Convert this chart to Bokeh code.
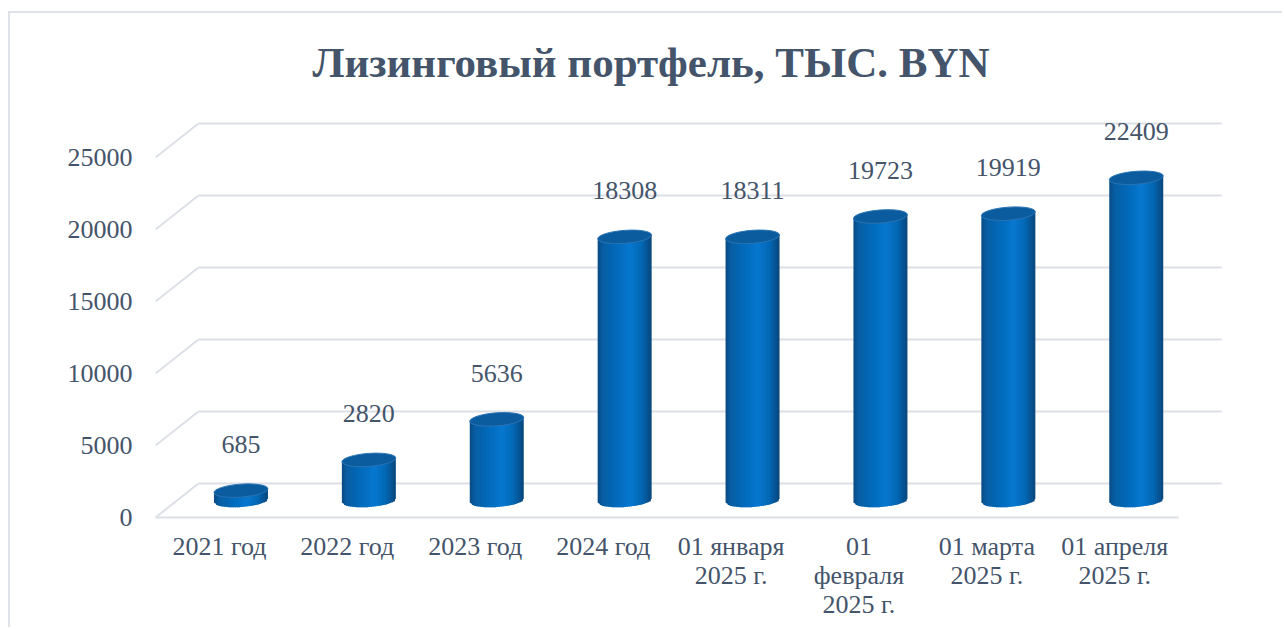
import math
import numpy as np
from bokeh.plotting import figure
from bokeh.models import Range1d, FixedTicker
from bokeh.core.properties import value
from bokeh.embed import file_html
from bokeh.resources import INLINE

# ---------------- data ----------------
categories = ["2021 год", "2022 год", "2023 год", "2024 год",
              "01 января\n2025 г.", "01\nфевраля\n2025 г.",
              "01 марта\n2025 г.", "01 апреля\n2025 г."]
values = [685, 2820, 5636, 18308, 18311, 19723, 19919, 22409]
y_ticks = [0, 5000, 10000, 15000, 20000, 25000]
title_text = "Лизинговый портфель, ТЫС. BYN"

# ---------------- layout constants ----------------
W, H = 1274, 616
ML, MR, MT, MB = 140, 54, 92, 107
PX_X = 127.9          # px per category
PX_Y = 72.0 / 5000.0  # px per value unit
frame_w = W - ML - MR
frame_h = H - MT - MB
x0 = -0.5 - 5 / PX_X
y0 = -5 / PX_Y
DX = 43 / PX_X        # depth offset (x)
DY = 34 / PX_Y        # depth offset (y)
BW = 54 / PX_X        # cylinder width
EH = 6.5 / PX_Y       # ellipse half height
TILT = 2.0 / PX_Y     # perspective tilt at cylinder edge

TEXT = "#44546A"
GRID = "#DCE0E6"
FONT = "Liberation Serif"

p = figure(width=W, height=H, output_backend="svg", toolbar_location=None,
           x_range=Range1d(x0, x0 + frame_w / PX_X),
           y_range=Range1d(y0, y0 + frame_h / PX_Y),
           min_border_left=ML, min_border_right=MR,
           min_border_top=MT, min_border_bottom=MB)
p.styles = {"border-top": "2px solid #DEE2E8", "border-left": "2px solid #DEE2E8",
            "margin-left": "8px", "margin-top": "11px"}
p.outline_line_color = None
p.xgrid.visible = False
p.ygrid.visible = False
p.background_fill_color = "white"
p.border_fill_color = "white"

# title
p.title.text = title_text
p.title.text_font = FONT
p.title.text_font_style = "bold"
p.title.text_font_size = "43px"
p.title.text_color = TEXT
p.title.align = "left"
p.title.offset = 162
p.title.standoff = 40

# ---------------- 3D-ish grid ----------------
n = len(categories)
gx_front0, gx_back0, gx_back1 = -0.5, -0.5 + DX, n - 0.5 + DX
p.segment(x0=[-0.5], y0=[0], x1=[n - 0.5], y1=[0], line_color=GRID, line_width=2)
p.segment(x0=[gx_front0] * len(y_ticks), y0=y_ticks,
          x1=[gx_back0] * len(y_ticks), y1=[t + DY for t in y_ticks],
          line_color=GRID, line_width=2)
p.segment(x0=[gx_back0] * len(y_ticks), y0=[t + DY for t in y_ticks],
          x1=[gx_back1] * len(y_ticks), y1=[t + DY for t in y_ticks],
          line_color=GRID, line_width=2)

# ---------------- cylinders ----------------
stops = [(0.0, (10, 74, 130)), (0.10, (8, 94, 165)), (0.35, (2, 106, 186)),
         (0.60, (7, 120, 208)), (0.82, (3, 102, 178)), (1.0, (9, 70, 122))]


def grad(t):
    for (a, ca), (b, cb) in zip(stops[:-1], stops[1:]):
        if a <= t <= b:
            f = (t - a) / (b - a)
            c = [round(ca[j] + (cb[j] - ca[j]) * f) for j in range(3)]
            return "#%02x%02x%02x" % tuple(c)
    return "#%02x%02x%02x" % stops[-1][1]


N = 26
edges = np.linspace(-1, 1, N + 1)
OV = 1.2 / PX_X
xs, ys, cols = [], [], []
for i, v in enumerate(values):
    cx = i + DX / 2
    base = DY / 2
    top = v + DY / 2
    for k in range(N):
        u1, u2 = edges[k], edges[k + 1]
        xa, xb = cx + u1 * BW / 2, cx + u2 * BW / 2
        if k < N - 1:
            xb += OV
        b1 = base + u1 * TILT - EH * math.sqrt(max(0.0, 1 - u1 * u1))
        b2 = base + u2 * TILT - EH * math.sqrt(max(0.0, 1 - u2 * u2))
        xs.append([xa, xb, xb, xa])
        ys.append([top + u1 * TILT, top + u2 * TILT, b2, b1])
        cols.append(grad((k + 0.5) / N))
p.patches(xs, ys, fill_color=cols, line_color=None)

cxs = [i + DX / 2 for i in range(n)]
tops = [v + DY / 2 for v in values]
p.ellipse(x=cxs, y=tops, width=BW, height=2 * EH, angle=math.atan(2 * 2 / 54),
          fill_color="#0B5C9E", line_color="#2A74B4", line_width=1)

# value labels
p.text(x=cxs, y=tops, text=[str(v) for v in values],
       text_font=value(FONT), text_font_size="26px", text_color=TEXT,
       text_align="center", text_baseline="middle", y_offset=-46)

# ---------------- axes ----------------
p.yaxis.ticker = FixedTicker(ticks=y_ticks)
p.yaxis.major_label_overrides = {t: str(t) for t in y_ticks}
p.xaxis.ticker = FixedTicker(ticks=list(range(n)))
p.xaxis.major_label_overrides = {i: c for i, c in enumerate(categories)}
for ax in (p.xaxis[0], p.yaxis[0]):
    ax.axis_line_color = None
    ax.major_tick_line_color = None
    ax.minor_tick_line_color = None
    ax.major_tick_out = 0
    ax.major_tick_in = 0
    ax.minor_tick_out = 0
    ax.minor_tick_in = 0
    ax.major_label_text_font = FONT
    ax.major_label_text_font_size = "26px"
    ax.major_label_text_color = TEXT
p.yaxis.major_label_standoff = 18
p.xaxis.major_label_standoff = 9
p.xaxis.major_label_text_line_height = 1.0

open("out.html", "w").write(file_html(p, INLINE))
